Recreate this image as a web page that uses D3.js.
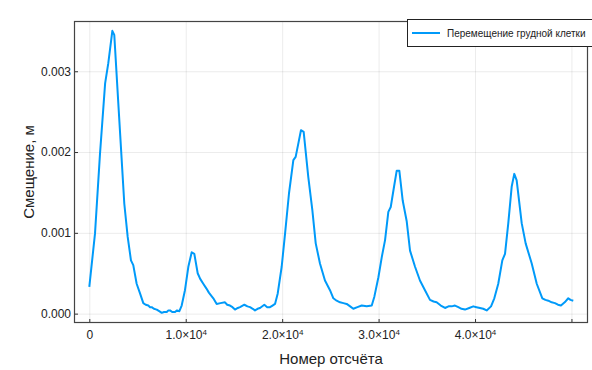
<!DOCTYPE html>
<html>
<head>
<meta charset="utf-8">
<script src="https://cdn.jsdelivr.net/npm/d3@7"></script>
<style>
  body { margin: 0; background: #fff; }
  svg { font-family: "Liberation Sans", Arial, sans-serif; }
</style>
</head>
<body>
<div id="chart"></div>
<script>
// sample number vs chest displacement (m)
const sampleIdx = [
  0, 590, 1110, 1640, 1970, 2390, 2590, 3010, 3420, 3630, 3980, 4320, 4560, 4910, 5260, 5600,
  5850, 6120, 6300, 6470, 6700, 6990, 7250, 7510, 7750, 8030, 8200, 8370, 8600, 8890, 9100, 9340,
  9580, 9920, 10270, 10620, 10890, 11240, 11500, 11820, 12150, 12400, 12860, 13210, 13600, 14070,
  14300, 14590, 14850, 15110, 15400, 15630, 16080, 16400, 16670, 16950, 17180, 17450, 17700, 18150,
  18450, 18740, 19000, 19260, 19540, 19950, 20300, 20710, 21160, 21400, 21700, 21950, 22230, 22710,
  23130, 23480, 23920, 24440, 24960, 25310, 25650, 26000, 26350, 26690, 27050, 27380, 27800, 28250,
  28770, 29290, 29560, 29980, 30330, 30670, 31010, 31260, 31600, 31880, 32150, 32500, 32920, 33260,
  33780, 34290, 34810, 35330, 35700, 36020, 36450, 36890, 37250, 37580, 37920, 38270, 38600, 38960,
  39400, 39820, 40150, 40510, 40850, 41210, 41660, 42000, 42410, 42830, 43110, 43450, 43800, 44070,
  44320, 44840, 45250, 45880, 46400, 46980, 47300, 47600, 47950, 48290, 48600, 48910, 49300, 49670,
  49900, 50190
];
const displacement = [
  0.00033, 0.00099, 0.00198, 0.00285, 0.00310, 0.00350, 0.00345, 0.00260, 0.00178, 0.00136, 0.00095, 0.00066, 0.00060, 0.00037, 0.00025, 0.00013,
  0.00011, 0.00010, 0.00008, 0.00008, 0.00006, 0.00005, 0.00003, 0.00001, 0.00002, 0.00002, 0.00004, 0.00004, 0.00002, 0.00002, 0.00004, 0.00003,
  0.00010, 0.00029, 0.00058, 0.00076, 0.00074, 0.00050, 0.00043, 0.00037, 0.00031, 0.00026, 0.00019, 0.00012, 0.00013, 0.00014,
  0.00011, 0.00010, 0.00008, 0.00005, 0.00007, 0.00008, 0.00011, 0.00009, 0.00008, 0.00006, 0.00004, 0.00006, 0.00007, 0.00011,
  0.00008, 0.00008, 0.00010, 0.00012, 0.00025, 0.00058, 0.00099, 0.00149, 0.00190, 0.00194, 0.00212, 0.00227, 0.00225, 0.00169,
  0.00128, 0.00087, 0.00062, 0.00041, 0.00029, 0.00019, 0.00016, 0.00014, 0.00013, 0.00012, 0.00009, 0.00006, 0.00008, 0.00010,
  0.00009, 0.00010, 0.00021, 0.00045, 0.00070, 0.00091, 0.00126, 0.00132, 0.00157, 0.00177, 0.00177, 0.00140, 0.00114, 0.00078,
  0.00058, 0.00041, 0.00029, 0.00017, 0.00015, 0.00014, 0.00010, 0.00007, 0.00009, 0.00009, 0.00010, 0.00008, 0.00006, 0.00005,
  0.00007, 0.00009, 0.00008, 0.00007, 0.00006, 0.00004, 0.00009, 0.00019, 0.00037, 0.00066, 0.00074, 0.00112, 0.00157, 0.00173,
  0.00165, 0.00112, 0.00087, 0.00062, 0.00037, 0.00019, 0.00017, 0.00016, 0.00014, 0.00013, 0.00011, 0.00010, 0.00014, 0.00019,
  0.00017, 0.00016
];

const xTicks = [0, 10000, 20000, 30000, 40000, 50000];
const xTickMantissa = ["0", "1.0", "2.0", "3.0", "4.0", ""];
const yTicks = [0, 0.001, 0.002, 0.003];
const seriesName = "Перемещение грудной клетки";

const width = 592, height = 370;
const margin = {top: 21, right: 4, bottom: 47, left: 74};
const lineColor = "#009af9";

const x = d3.scaleLinear()
  .domain([-1587, 51716])
  .range([margin.left, width - margin.right]);
const y = d3.scaleLinear()
  .domain([-0.000116, 0.003622])
  .range([height - margin.bottom, margin.top]);

const svg = d3.select("#chart")
  .append("svg")
  .attr("width", width)
  .attr("height", height);

// grid
svg.append("g")
  .attr("transform", `translate(0,${height - margin.bottom})`)
  .call(d3.axisBottom(x).tickValues(xTicks).tickSize(-(height - margin.top - margin.bottom)).tickFormat(""))
  .call(g => g.select(".domain").remove())
  .call(g => g.selectAll("line").attr("stroke", "#000").attr("stroke-opacity", 0.08));
svg.append("g")
  .attr("transform", `translate(${margin.left},0)`)
  .call(d3.axisLeft(y).tickValues(yTicks).tickSize(-(width - margin.left - margin.right)).tickFormat(""))
  .call(g => g.select(".domain").remove())
  .call(g => g.selectAll("line").attr("stroke", "#000").attr("stroke-opacity", 0.08));

// axes
const xAxis = svg.append("g")
  .attr("transform", `translate(0,${height - margin.bottom})`)
  .call(d3.axisBottom(x).tickValues(xTicks).tickSize(-4).tickPadding(7).tickFormat(""));
xAxis.select(".domain").remove();
xAxis.selectAll(".tick line").attr("stroke", "#333");
xAxis.selectAll(".tick text")
  .attr("font-size", 12)
  .attr("fill", "#222")
  .attr("font-family", "Liberation Sans, Arial, sans-serif")
  .each(function(d, i) {
    const t = d3.select(this);
    const m = xTickMantissa[i];
    if (m === "0") { t.text("0"); return; }
    if (!m) return;
    t.append("tspan").text(m + "×10");
    t.append("tspan").attr("font-size", 8).attr("dy", "-0.45em").text("4");
  });

const yAxis = svg.append("g")
  .attr("transform", `translate(${margin.left},0)`)
  .call(d3.axisLeft(y).tickValues(yTicks).tickSize(-4).tickPadding(3).tickFormat(d3.format(".3f")));
yAxis.select(".domain").remove();
yAxis.selectAll(".tick line").attr("stroke", "#333");
yAxis.selectAll(".tick text")
  .attr("font-size", 12)
  .attr("fill", "#222")
  .attr("font-family", "Liberation Sans, Arial, sans-serif");

// frame
svg.append("rect")
  .attr("x", margin.left + 0.5)
  .attr("y", margin.top + 0.5)
  .attr("width", width - margin.left - margin.right - 1)
  .attr("height", height - margin.top - margin.bottom - 1)
  .attr("fill", "none")
  .attr("stroke", "#444")
  .attr("stroke-width", 1.2);

// series
const line = d3.line()
  .x((d, i) => x(sampleIdx[i]))
  .y(d => y(d));
svg.append("path")
  .datum(displacement)
  .attr("fill", "none")
  .attr("stroke", lineColor)
  .attr("stroke-width", 2)
  .attr("stroke-linejoin", "round")
  .attr("d", line);

// axis titles
svg.append("text")
  .attr("x", (margin.left + width - margin.right) / 2)
  .attr("y", 364)
  .attr("text-anchor", "middle")
  .attr("font-size", 15)
  .attr("fill", "#222")
  .text("Номер отсчёта");
svg.append("text")
  .attr("transform", `translate(34,${(margin.top + height - margin.bottom) / 2}) rotate(-90)`)
  .attr("text-anchor", "middle")
  .attr("font-size", 15)
  .attr("fill", "#222")
  .text("Смещение, м");

// legend
const legend = svg.append("g").attr("transform", "translate(407,19)");
legend.append("rect")
  .attr("x", 0.5).attr("y", 0.5)
  .attr("width", 190).attr("height", 27)
  .attr("fill", "#fff")
  .attr("stroke", "#222");
legend.append("line")
  .attr("x1", 5).attr("x2", 33)
  .attr("y1", 14).attr("y2", 14)
  .attr("stroke", lineColor)
  .attr("stroke-width", 2);
legend.append("text")
  .attr("x", 40).attr("y", 17.5)
  .attr("font-size", 10)
  .attr("fill", "#222")
  .text(seriesName);
</script>
</body>
</html>
